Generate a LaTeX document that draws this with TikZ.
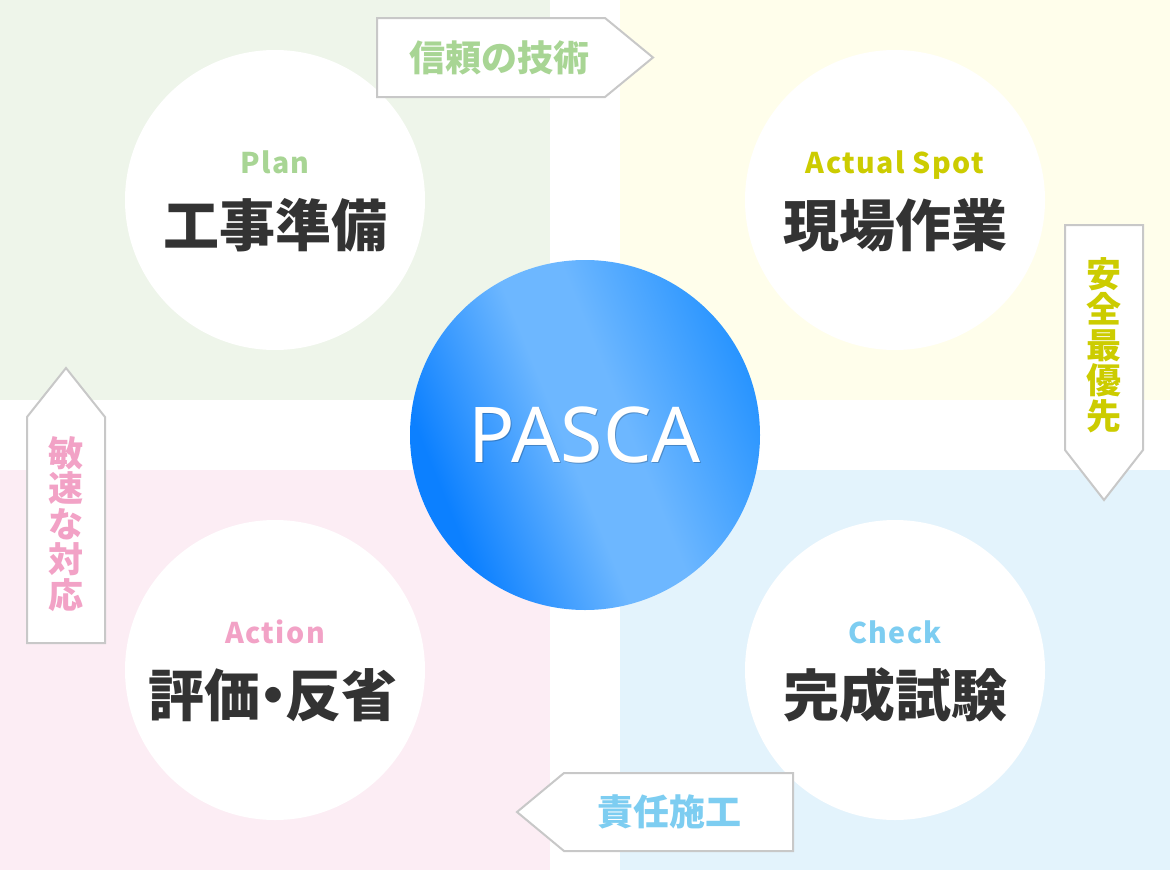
\documentclass[tikz,border=0pt]{standalone}
\usepackage{fontspec}
\setmainfont{Noto Sans CJK JP}
\newfontfamily\jp{Noto Sans CJK JP}
\newfontfamily\jpsp{Noto Sans CJK JP}[LetterSpace=5]
\newfontfamily\latin{Noto Sans}
\definecolor{bggreen}{HTML}{EEF5EA}
\definecolor{bgyellow}{HTML}{FFFEEB}
\definecolor{bgpink}{HTML}{FCEDF4}
\definecolor{bgblue}{HTML}{E3F3FC}
\definecolor{tgreen}{HTML}{A8D594}
\definecolor{tyellow}{HTML}{CCCC00}
\definecolor{tpink}{HTML}{F2A2C6}
\definecolor{tblue}{HTML}{7DCDF1}
\definecolor{tdark}{HTML}{333333}
\definecolor{frame}{HTML}{C8C8C8}
\definecolor{bdark}{HTML}{0C80FF}
\definecolor{blight}{HTML}{6DB7FF}
\definecolor{bright}{HTML}{2894FF}
\pgfdeclarehorizontalshading{pascashade}{100bp}{color(0bp)=(bdark); color(28bp)=(bdark); color(47bp)=(blight); color(56bp)=(blight); color(75bp)=(bright); color(100bp)=(bright)}
\begin{document}
\begin{tikzpicture}[x=1pt,y=1pt,
  phase/.style={circle,fill=white,minimum size=300pt,inner sep=0pt},
  entext/.style={anchor=base,inner sep=0pt,font=\jpsp\bfseries\fontsize{28.5}{30}\selectfont},
  jptext/.style={anchor=base,inner sep=0pt,text=tdark,font=\jp\bfseries\fontsize{56}{60}\selectfont},
  arrowbox/.style={draw=frame,line width=2pt,fill=white,line join=miter},
  lbl/.style={inner sep=0pt,font=\jp\bfseries\fontsize{36}{40}\selectfont},
  vlbl/.style={inner sep=0pt,align=center,font=\jp\bfseries\fontsize{35}{35.5}\selectfont}]
\useasboundingbox (0,0) rectangle (1170,-870);
\fill[white] (0,0) rectangle (1170,-870);
% quadrants
\fill[bggreen] (0,0) rectangle (550,-400);
\fill[bgyellow] (620,0) rectangle (1170,-400);
\fill[bgpink] (0,-470) rectangle (550,-870);
\fill[bgblue] (620,-470) rectangle (1170,-870);
% phase circles
\node[phase] (plan) at (275,-200) {};
\node[phase] (spot) at (895,-200) {};
\node[phase] (act) at (275,-670) {};
\node[phase] (chk) at (895,-670) {};
% texts in circles
\node[entext,text=tgreen] (planen) at (275,-173) {Plan};
\node[jptext] (planjp) at (275,-246) {工事準備};
\node[entext,text=tyellow] (spoten) at (895,-173) {Actual Spot};
\node[jptext] (spotjp) at (895,-246) {現場作業};
\node[entext,text=tpink] (acten) at (275,-643) {Action};
\node[jptext] (actjp) at (273,-716) {評価\kern-0.27em・\kern-0.27em反省};
\node[entext,text=tblue] (chken) at (895,-643) {Check};
\node[jptext] (chkjp) at (895,-716) {完成試験};
% center
\node[circle,minimum size=350pt,inner sep=0pt,shading=pascashade,shading angle=22] (pasca) at (585,-435) {};
\node[text=black,opacity=0.22,inner sep=0pt,font=\latin\fontsize{77}{80}\selectfont] at ([xshift=0.8pt,yshift=-1.5pt]pasca.center) {PASCA};
\node[text=white,inner sep=0pt,font=\latin\fontsize{77}{80}\selectfont] (pascatxt) at (pasca.center) {PASCA};
% arrows
\draw[arrowbox] (377,-18) -- (605,-18) -- (653,-57.5) -- (605,-97) -- (377,-97) -- cycle;
\node[lbl,text=tgreen] (top) at (499,-58) {信頼の技術};
\draw[arrowbox] (1065,-225) -- (1143,-225) -- (1143,-450) -- (1104,-500) -- (1065,-450) -- cycle;
\node[vlbl,text=tyellow] (right) at (1104,-345) {安\\全\\最\\優\\先};
\draw[arrowbox] (27,-643) -- (27,-417) -- (66,-368) -- (105,-417) -- (105,-643) -- cycle;
\node[vlbl,text=tpink] (left) at (66,-524) {敏\\速\\な\\対\\応};
\draw[arrowbox] (793,-773) -- (564,-773) -- (517,-812) -- (564,-851) -- (793,-851) -- cycle;
\node[lbl,text=tblue] (bottom) at (669,-812) {責任施工};
\end{tikzpicture}
\end{document}
